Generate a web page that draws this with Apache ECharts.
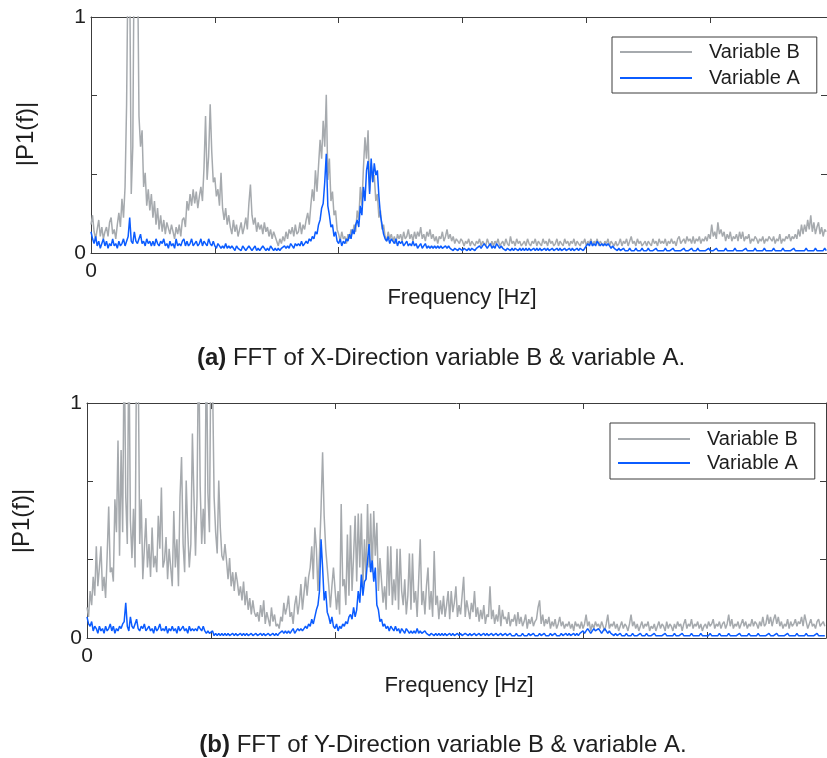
<!DOCTYPE html>
<html><head><meta charset="utf-8">
<script src="https://cdn.jsdelivr.net/npm/echarts@6/dist/echarts.min.js"></script>
<style>html,body{margin:0;padding:0;background:#fff}#c{width:827px;height:758px}</style>
</head><body><div id="c"></div>
<script>
// frequency bin width (axis units; one major tick = 1 unit)
const FREQ_STEP = 0.0125;
const seriesNames = ['Variable B', 'Variable A'];
const xTickLabels = { 0: '0' };
const yTickLabels = { 0: '0', 1: '1' };
const captions = ['FFT of X-Direction variable B & variable A.', 'FFT of Y-Direction variable B & variable A.'];
const captionTags = ['(a)', '(b)'];

// values in percent of full scale (|P1(f)| = value/100)
const topB = [
 12,16,9,6,10,14,7,11,6,9, 11,7,13,15,8,10,6,12,17,11, 23,15,28,63,130,120,25,45,140,135,
 130,58,45,52,28,34,20,27,18,25, 15,22,12,19,10,16,9,14,8,13, 13,8,12,9,6,11,8,12,7,14,
 15,11,22,18,25,20,27,21,26,19, 24,28,22,36,58,31,41,63,43,30, 32,24,27,20,34,19,14,19,12,16,
 11,8,14,9,12,7,10,13,8,11, 15,10,21,29,16,12,15,9,13,10, 12,8,13,9,11,7,10,6,9,7,
 5,3,6,4,7,5,9,6,10,8, 11,7,12,8,9,13,8,12,10,14, 17,12,20,27,22,35,26,37,48,40,
 56,45,67,31,40,22,26,16,18,10, 8,5,9,6,7,4,8,6,10,8, 12,9,18,14,28,20,36,49,40,52,
 26,38,30,33,22,25,15,18,10,12, 7,5,9,6,8,5,7,4,8,6, 8,5,9,6,7,10,6,8,5,9,
 6,9,7,11,6,8,5,9,7,10, 6,8,5,7,4,7,6,9,5,7, 10,6,8,5,7,4,6,5,4,6,
 5,3,5,4,6,3,5,4,3,5, 4,6,3,5,4,3,6,4,3,5, 3,5,4,6,3,4,5,3,6,4,
 3,7,4,5,3,6,4,5,3,4, 5,3,6,4,3,5,4,6,3,5, 4,3,6,4,5,3,6,4,5,3,
 4,6,3,5,4,3,6,4,5,3, 5,4,6,3,5,4,3,5,4,6, 3,5,4,6,3,5,4,6,3,5,
 4,3,5,4,6,3,5,4,3,5, 3,4,6,3,5,4,6,3,5,7, 4,5,3,6,4,5,3,4,5,3,
 5,4,3,6,4,5,3,6,4,5, 4,6,3,5,4,6,4,5,3,6, 7,4,5,6,4,7,5,6,4,7,
 4,6,5,7,4,6,5,7,5,8, 6,12,7,9,6,13,8,10,7,9, 5,8,6,9,5,7,6,8,5,9,
 6,9,5,7,6,8,4,6,5,7, 6,4,6,5,7,4,6,5,7,6, 5,7,4,6,5,8,4,6,5,7,
 6,8,5,7,6,8,6,10,7,12, 8,12,9,14,10,16,9,13,8,11, 13,8,11,7,10,9];
const topA = [
 9,6,4,7,3,5,2,4,6,3, 5,2,4,3,6,3,4,2,5,3, 4,6,3,5,7,15,5,4,9,5,
 4,6,8,4,5,3,6,4,5,3, 5,3,6,4,3,5,4,6,3,4, 2,5,3,4,2,6,3,4,3,5,
 6,3,5,3,4,6,3,4,5,3, 4,6,3,5,4,3,6,4,3,5, 3,2,4,3,2,3,2,4,2,3,
 2,3,2,1,3,2,2,1,3,2, 1,2,3,2,1,2,3,1,2,1, 2,3,2,1,2,1,3,2,1,2,
 1,2,1,2,2,3,2,3,2,4, 3,2,4,3,4,3,5,3,4,5, 4,6,5,7,6,9,8,12,14,19,
 21,30,42,20,16,11,12,7,9,5, 4,6,3,5,4,6,5,8,6,10, 8,12,14,11,20,16,28,22,35,39,
 25,40,30,38,33,35,24,16,12,8, 6,5,7,4,6,5,4,6,3,5, 4,5,3,4,5,3,4,3,5,3,
 4,2,3,4,2,3,4,2,3,2, 3,2,3,2,3,2,3,2,2,3, 2,3,2,2,1,2,2,1,2,2,
 1,2,2,1,2,1,2,2,1,2, 2,3,2,3,4,3,2,3,4,2, 3,2,4,3,2,3,2,2,1,2,
 2,1,2,1,2,2,1,2,1,2, 1,2,1,2,1,1,2,1,2,1, 2,1,1,2,1,2,1,1,2,1,
 1,2,1,2,1,1,2,1,1,2, 1,2,1,1,2,1,2,2,1,2, 3,4,3,5,3,4,3,5,4,3,
 4,3,4,3,4,3,2,3,2,2, 1,2,1,1,2,1,1,1,2,1, 1,1,2,1,1,1,2,1,1,1,
 2,1,1,1,1,2,1,1,1,1, 1,2,1,1,1,1,2,1,1,1, 1,1,1,2,1,1,1,1,2,1,
 1,1,2,1,1,1,1,1,1,2, 1,1,1,1,2,1,1,1,1,1, 2,1,1,1,1,1,2,1,1,1,
 1,1,1,2,1,1,1,1,1,2, 1,1,1,1,1,2,1,1,1,1, 1,2,1,1,1,1,1,2,1,1,
 1,1,1,1,2,1,1,1,1,1, 1,1,2,1,1,1,1,1,2,1, 1,1,1,1,2,1];
const botB = [
 13,9,20,14,26,18,39,22,30,39, 20,26,17,35,56,28,30,24,59,45, 84,35,80,45,130,60,40,130,50,34,
 55,30,125,120,40,59,25,38,51,30, 40,26,47,30,35,28,52,38,64,30, 33,43,25,38,30,22,54,30,42,22,
 60,77,40,28,67,45,30,40,87,60, 35,60,130,65,40,55,40,130,62,45, 130,110,60,45,36,67,47,35,33,40,
 33,25,34,22,28,20,28,24,18,22, 16,24,14,20,12,17,10,16,11,9, 11,7,14,9,16,6,11,8,5,13,
 7,10,5,6,4,9,7,15,10,13, 18,9,11,6,14,18,10,15,23,12, 19,26,18,26,30,39,25,47,38,20,
 36,55,79,52,38,30,22,13,22,30, 30,12,20,10,57,22,25,14,44,18, 48,20,35,52,24,53,30,53,22,42,
 25,57,30,53,28,54,35,49,20,34, 34,15,22,12,39,18,39,14,25,16, 38,12,38,20,14,25,10,18,36,12,
 36,15,20,9,25,42,14,20,10,22, 30,12,20,9,37,14,18,8,16,10, 18,9,14,20,8,20,11,15,22,9,
 14,10,18,26,9,16,12,8,15,11, 20,9,13,7,12,8,14,6,10,9, 22,8,12,6,10,7,14,5,12,8,
 9,6,11,5,8,7,10,5,11,6, 9,5,7,10,4,8,6,9,5,7, 8,13,16,6,10,5,8,6,9,4,
 7,5,8,4,6,9,5,7,4,6, 5,7,4,6,3,7,5,6,4,7, 4,6,10,5,7,3,6,4,7,5,
 6,4,7,5,3,6,10,4,6,5, 7,4,6,3,5,7,4,6,5,3, 6,10,5,7,4,6,3,5,7,4,
 6,5,7,3,5,4,6,3,5,7, 4,6,5,3,7,4,6,5,3,6, 4,7,5,6,3,6,8,4,6,5,
 8,4,6,5,7,4,6,3,5,6, 4,7,5,6,8,4,6,5,7,4, 6,7,4,6,10,5,8,4,6,5,
 7,4,6,8,5,7,4,6,5,8, 5,7,6,4,7,5,9,5,6,10, 6,9,5,8,10,6,9,5,7,4,
 6,5,8,4,7,5,6,8,5,7, 6,9,5,10,7,4,6,8,5,6, 4,7,8,5,6,7,5];
const botA = [
 9,6,5,7,3,5,4,2,5,3, 4,2,5,3,4,6,3,5,2,4, 3,5,4,6,7,15,5,3,9,5,
 4,6,8,4,3,5,4,6,3,4, 5,3,4,2,5,3,4,6,3,4, 3,5,2,4,3,5,3,4,2,5,
 3,4,5,3,4,2,5,3,4,3, 4,3,5,4,3,5,3,2,3,2, 2,3,1,2,1,2,1,2,1,2,
 1,2,1,1,2,1,2,1,1,2, 1,2,1,2,1,1,2,1,1,2, 1,1,2,1,2,1,1,2,1,1,
 2,1,2,1,2,2,3,2,3,2, 3,2,3,4,2,3,4,3,4,3, 4,5,4,6,5,8,6,9,12,14,
 20,42,30,16,20,11,9,6,9,5, 4,6,3,5,4,6,5,7,6,9, 10,8,13,9,12,20,15,27,18,24,
 25,33,40,28,33,24,30,14,12,7, 8,5,6,4,5,3,5,4,3,5, 3,4,2,4,3,2,4,3,2,3,
 2,3,2,4,2,3,2,2,3,2, 2,1,2,2,1,2,1,2,1,2, 1,2,1,1,2,1,2,1,1,2,
 1,2,1,1,2,2,1,2,1,1, 2,1,1,2,1,1,2,1,2,1, 1,2,1,1,2,1,1,2,1,1,
 2,1,1,2,1,1,1,2,1,1, 1,2,1,1,1,2,1,1,2,1, 1,1,2,1,1,2,1,1,1,2,
 1,1,2,1,1,1,2,1,1,2, 1,2,1,1,2,1,2,1,2,2, 3,2,3,4,3,2,3,4,3,3,
 4,3,2,3,4,3,2,3,2,2, 1,2,1,1,2,1,1,1,2,1, 1,1,2,1,1,1,1,2,1,1,
 1,2,1,1,1,1,2,1,1,1, 1,1,1,2,1,1,1,1,1,2, 1,1,1,1,2,1,1,1,1,1,
 2,1,1,1,1,1,2,1,1,1, 1,1,2,1,1,1,1,1,2,1, 1,1,1,1,2,1,1,1,1,1,
 1,2,1,1,1,1,1,2,1,1, 1,1,1,2,1,1,1,1,1,1, 2,1,1,1,1,2,1,1,1,1,
 1,1,2,1,1,1,1,1,2,1, 1,1,1,1,2,1,1,1,1,1, 1,2,1,1,1,1,1];

function pairs(arr) { return arr.map((v, i) => [i * FREQ_STEP, v / 100]); }

const FONT = '"Liberation Sans", Arial, Helvetica, sans-serif';
const INK = '#1e1e1e';
const AX = '#3c3c3c';
const GRAY = '#a6aaae';
const BLUE = '#0b5cff';

const grids = [
  { left: 91, top: 17, width: 737, height: 236 },
  { left: 87, top: 403, width: 739, height: 235 }
];
const xMax = [737 / 124, 739 / 124];

const xAxes = [], yAxes = [], series = [];
grids.forEach((g, gi) => {
  const axLine = () => ({ show: true, onZero: false, lineStyle: { color: AX, width: 1 } });
  const tick = () => ({ show: true, inside: true, length: 6, lineStyle: { color: AX, width: 1 } });
  xAxes.push({ type: 'value', gridIndex: gi, position: 'bottom', min: 0, max: xMax[gi], interval: 1,
    axisLine: axLine(), axisTick: tick(), splitLine: { show: false },
    axisLabel: { showMaxLabel: false, margin: 8, fontSize: 21, fontFamily: FONT, color: INK,
      formatter: v => (xTickLabels[v] !== undefined ? xTickLabels[v] : '') } });
  xAxes.push({ type: 'value', gridIndex: gi, position: 'top', min: 0, max: xMax[gi], interval: 1,
    axisLine: axLine(), axisTick: tick(), splitLine: { show: false }, axisLabel: { show: false } });
  yAxes.push({ type: 'value', gridIndex: gi, position: 'left', min: 0, max: 1, interval: 1 / 3,
    axisLine: axLine(), axisTick: tick(), splitLine: { show: false },
    axisLabel: { margin: 5, fontSize: 21, fontFamily: FONT, color: INK, padding: [5, 0, 0, 0],
      formatter: v => (Math.abs(v) < 1e-6 ? yTickLabels[0] : (Math.abs(v - 1) < 1e-6 ? yTickLabels[1] : '')) } });
  yAxes.push({ type: 'value', gridIndex: gi, position: 'right', min: 0, max: 1, interval: 1 / 3,
    axisLine: axLine(), axisTick: tick(), splitLine: { show: false }, axisLabel: { show: false } });
});

const dataSets = [[topB, topA], [botB, botA]];
dataSets.forEach((pair, gi) => {
  pair.forEach((arr, si) => {
    series.push({
      type: 'line', name: seriesNames[si], xAxisIndex: gi * 2, yAxisIndex: gi * 2,
      data: pairs(arr), symbol: 'none', showSymbol: false, clip: true, animation: false,
      sampling: null,
      lineStyle: { color: si === 0 ? GRAY : BLUE, width: 1.5 },
      itemStyle: { color: si === 0 ? GRAY : BLUE }
    });
  });
});

function legendAt(left, top, padTop, gap) {
  return { orient: 'vertical', left: left, top: top, data: seriesNames, icon: 'rect',
    padding: [padTop, 17, padTop, 8], itemWidth: 72, itemHeight: 2, itemGap: gap,
    borderColor: AX, borderWidth: 1, backgroundColor: '#fff', selectedMode: false,
    textStyle: { fontSize: 20, lineHeight: 22, fontFamily: FONT, color: INK, padding: [0, 0, 0, 12] } };
}

function txt(x, y, text, size, rot, rich) {
  const el = { type: 'text', x: x, y: y, rotation: rot || 0, z: 100,
    style: { text: text, fontSize: size, fontFamily: FONT, fill: INK, align: 'center', verticalAlign: 'middle' } };
  if (rich) el.style.rich = rich;
  return el;
}
const boldRich = { b: { fontWeight: 'bold', fontSize: 24, fontFamily: FONT, fill: INK } };

const option = {
  backgroundColor: '#fff',
  animation: false,
  grid: grids,
  xAxis: xAxes,
  yAxis: yAxes,
  legend: [legendAt(612, 37, 4, 4), legendAt(610, 423, 5, 2)],
  series: series,
  graphic: [
    txt(26, 134, '|P1(f)|', 24, Math.PI / 2),
    txt(22, 521, '|P1(f)|', 24, Math.PI / 2),
    txt(462, 298, 'Frequency [Hz]', 22),
    txt(459, 686, 'Frequency [Hz]', 22),
    txt(441, 358, '{b|' + captionTags[0] + '} ' + captions[0], 24, 0, boldRich),
    txt(443, 745, '{b|' + captionTags[1] + '} ' + captions[1], 24, 0, boldRich)
  ]
};
const chart = echarts.init(document.getElementById('c'), null, { renderer: 'canvas' });
chart.setOption(option);
</script></body></html>
